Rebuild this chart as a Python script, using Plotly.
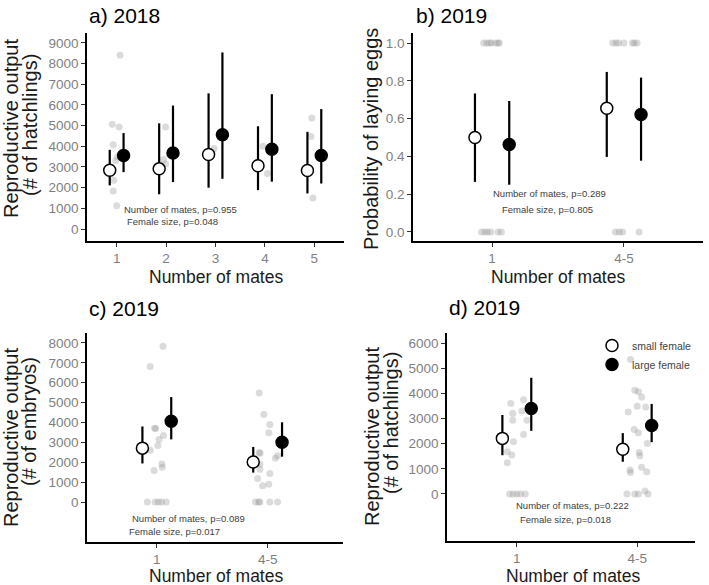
import plotly.graph_objects as go

W, H = 709, 585
FONT = "Liberation Sans, Arial, sans-serif"

# ---------------- data ----------------
# Panel a) 2018 - number of hatchlings
a_cats = ["1", "2", "3", "4", "5"]
a_small_mean = [2840, 2910, 3600, 3060, 2830]
a_small_lo = [2110, 1680, 2000, 1880, 1720]
a_small_hi = [3830, 5110, 6560, 4970, 4700]
a_large_mean = [3560, 3680, 4560, 3860, 3560]
a_large_lo = [2750, 2270, 2430, 2290, 2200]
a_large_hi = [4640, 5970, 8540, 6520, 5800]
a_raw_cat = [1, 1, 1, 1, 1, 1, 1, 1, 1, 2, 2, 2, 3, 3, 4, 4, 5, 5, 5]
a_raw_jit = [0.07, -0.09, 0.05, -0.07, 0.02, -0.02, -0.06, -0.07, 0.0,
             -0.01, -0.05, -0.01, -0.03, -0.07, -0.04, 0.05, -0.05, -0.07, -0.03]
a_raw_val = [8400, 5070, 4930, 4080, 3500, 3300, 2360, 1840, 1130,
             4930, 3360, 3150, 3890, 3680, 4000, 2690, 5370, 4470, 1500]

# Panel b) 2019 - probability of laying eggs
b_cats = ["1", "4-5"]
b_small_mean = [0.500, 0.655]
b_small_lo = [0.265, 0.397]
b_small_hi = [0.733, 0.847]
b_large_mean = [0.463, 0.622]
b_large_lo = [0.250, 0.377]
b_large_hi = [0.693, 0.817]
b_raw_cat = [1] * 13 + [2] * 11
b_raw_jit = [-0.064, -0.04, -0.02, -0.005, 0.026, 0.045, 0.055,
             -0.08, -0.055, -0.035, -0.01, 0.045, 0.07,
             -0.085, -0.06, -0.04, 0.0, 0.064, 0.08, 0.1,
             -0.064, -0.035, -0.01, 0.115]
b_raw_val = [1, 1, 1, 1, 1, 1, 1, 0, 0, 0, 0, 0, 0,
             1, 1, 1, 1, 1, 1, 1, 0, 0, 0, 0]

# Panel c) 2019 - number of embryos
c_cats = ["1", "4-5"]
c_small_mean = [2710, 2010]
c_small_lo = [1940, 1480]
c_small_hi = [3800, 2770]
c_large_mean = [4060, 3010]
c_large_lo = [3150, 2280]
c_large_hi = [5280, 4010]
c_raw_cat = [1] * 16 + [2] * 19
c_raw_jit = [-0.06, 0.056, -0.02, -0.01, 0.06, 0.02, 0.01, -0.06, 0.045, 0.05, -0.025,
             -0.085, -0.015, 0.014, 0.042, 0.085,
             -0.076, -0.034, 0.02, 0.01, -0.076, -0.068, 0.09, 0.07, -0.07, -0.07, 0.02,
             -0.09, 0.01, -0.045,
             -0.11, -0.08, -0.07, 0.02, 0.09]
c_raw_val = [6820, 7830, 3710, 3700, 3340, 3150, 2840, 2600, 1910, 1750, 1580,
             0, 0, 0, 0, 0,
             5480, 4400, 3900, 3480, 2490, 2450, 2330, 2200, 1900, 1650, 1430,
             1180, 890, 820,
             0, 0, 0, 0, 0]

# Panel d) 2019 - number of hatchlings
d_cats = ["1", "4-5"]
d_small_mean = [2210, 1780]
d_small_lo = [1540, 1280]
d_small_hi = [3140, 2420]
d_large_mean = [3400, 2720]
d_large_lo = [2510, 2060]
d_large_hi = [4620, 3580]
d_raw_cat = [1] * 16 + [2] * 21
d_raw_jit = [-0.05, 0.056, -0.034, 0.042, -0.034, 0.084, 0.056, -0.028, -0.079, -0.042, -0.079,
             -0.06, -0.03, 0.0, 0.03, 0.07,
             -0.056, -0.02, 0.01, 0.037, -0.075, 0.0, 0.07, -0.025, 0.01, 0.084, 0.017, 0.022,
             -0.06, -0.056, 0.037, 0.079,
             -0.085, -0.02, 0.01, 0.065, 0.09]
d_raw_val = [3600, 3750, 3200, 3300, 2930, 2930, 2360, 2080, 1680, 1550, 1240,
             0, 0, 0, 0, 0,
             5350, 4120, 4060, 3860, 3260, 3490, 3460, 2560, 2430, 2010, 1650, 1520,
             950, 850, 1060, 880,
             0, 0, 0, 120, 0]

group_names = ["small female", "large female"]

# ---------------- layout helpers ----------------
def fx(p):
    return p / W

def fy(p):
    return 1 - p / H

DODGE = 0.13
RAW_COLOR = "rgba(150,150,150,0.34)"

panels = [
    dict(ax="", cats=a_cats, raw=(a_raw_cat, a_raw_jit, a_raw_val),
         small=(a_small_mean, a_small_lo, a_small_hi), large=(a_large_mean, a_large_lo, a_large_hi),
         dodge=0.14),
    dict(ax="2", cats=b_cats, raw=(b_raw_cat, b_raw_jit, b_raw_val),
         small=(b_small_mean, b_small_lo, b_small_hi), large=(b_large_mean, b_large_lo, b_large_hi),
         dodge=DODGE),
    dict(ax="3", cats=c_cats, raw=(c_raw_cat, c_raw_jit, c_raw_val),
         small=(c_small_mean, c_small_lo, c_small_hi), large=(c_large_mean, c_large_lo, c_large_hi),
         dodge=DODGE),
    dict(ax="4", cats=d_cats, raw=(d_raw_cat, d_raw_jit, d_raw_val),
         small=(d_small_mean, d_small_lo, d_small_hi), large=(d_large_mean, d_large_lo, d_large_hi),
         dodge=0.12),
]

fig = go.Figure()

for i, p in enumerate(panels):
    xa, ya = "x" + p["ax"], "y" + p["ax"]
    rc, rj, rv = p["raw"]
    fig.add_trace(go.Scatter(
        x=[c + j for c, j in zip(rc, rj)], y=rv, mode="markers",
        marker=dict(size=7, color=RAW_COLOR, line=dict(width=0)),
        xaxis=xa, yaxis=ya, showlegend=False, hoverinfo="skip"))
    n = len(p["cats"])
    for gi, (key, fill, off) in enumerate([("small", "white", -p["dodge"]), ("large", "black", p["dodge"])]):
        mean, lo, hi = p[key]
        fig.add_trace(go.Scatter(
            x=[k + 1 + off for k in range(n)], y=mean, mode="markers",
            marker=dict(size=12, color=fill, line=dict(color="black", width=1.5)),
            error_y=dict(type="data", symmetric=False,
                         array=[h - m for h, m in zip(hi, mean)],
                         arrayminus=[m - l for m, l in zip(mean, lo)],
                         color="black", thickness=2.2, width=0),
            xaxis=xa, yaxis=ya, name=group_names[gi],
            showlegend=(i == 3), hoverinfo="skip"))

# axis domains (pixel measurements)
dom = {
    "": dict(x=(87, 344), y=(33, 241), xr=[0.4, 5.6], yr=[-580, 9480],
             yt=list(range(0, 9001, 1000)), ytt=None),
    "2": dict(x=(413, 703), y=(33, 241), xr=[0.4, 2.6], yr=[-0.048, 1.053],
              yt=[0, 0.2, 0.4, 0.6, 0.8, 1.0], ytt=["0.0", "0.2", "0.4", "0.6", "0.8", "1.0"]),
    "3": dict(x=(87, 343), y=(333, 542), xr=[0.37, 2.68], yr=[-2010, 8500],
              yt=list(range(0, 8001, 1000)), ytt=None),
    "4": dict(x=(447, 695), y=(333, 541), xr=[0.42, 2.48], yr=[-1870, 6400],
              yt=list(range(0, 6001, 1000)), ytt=None),
}

axis_common = dict(showline=True, linecolor="black", linewidth=1.6, showgrid=False,
                   zeroline=False, ticks="outside", ticklen=4, tickwidth=1.4,
                   tickcolor="#333333", tickfont=dict(family=FONT, size=13.5, color="#7f7f7f"))

layout_axes = {}
for i, p in enumerate(panels):
    k = p["ax"]
    d = dom[k]
    xname = "xaxis" + k
    yname = "yaxis" + k
    layout_axes[xname] = dict(axis_common, domain=[fx(d["x"][0]), fx(d["x"][1])],
                              range=d["xr"], tickvals=list(range(1, len(p["cats"]) + 1)),
                              ticktext=p["cats"], anchor="y" + k)
    ydict = dict(axis_common, domain=[fy(d["y"][1]), fy(d["y"][0])],
                 range=d["yr"], tickvals=d["yt"], anchor="x" + k)
    if d["ytt"] is not None:
        ydict["ticktext"] = d["ytt"]
    layout_axes[yname] = ydict

fig.update_layout(**layout_axes)

annotations = []

def ann(text, x, y, size, color="black", angle=0, xanchor="center"):
    annotations.append(dict(text=text, x=fx(x), y=fy(y), xref="paper", yref="paper",
                            showarrow=False, textangle=angle, xanchor=xanchor, yanchor="middle",
                            font=dict(family=FONT, size=size, color=color)))

# panel titles
ann("a) 2018", 87, 15, 21, xanchor="left")
ann("b) 2019", 414, 15, 21, xanchor="left")
ann("c) 2019", 87, 308, 21, xanchor="left")
ann("d) 2019", 447, 307, 21, xanchor="left")

# x axis titles
for cx, cy in [(216, 277), (558, 277), (216, 576), (573, 576)]:
    ann("Number of mates", cx, cy, 17.5, color="#1a1a1a")

# y axis titles
ann("Reproductive output", 11, 129, 20, color="#1a1a1a", angle=-90)
ann("(# of hatchlings)", 30, 125, 20, color="#1a1a1a", angle=-90)
ann("Probability of laying eggs", 371, 139, 20, color="#1a1a1a", angle=-90)
ann("Reproductive output", 11, 438, 20, color="#1a1a1a", angle=-90)
ann("(# of embryos)", 29, 422, 20, color="#1a1a1a", angle=-90)
ann("Reproductive output", 372, 437, 20, color="#1a1a1a", angle=-90)
ann("(# of hatchlings)", 391, 423, 20, color="#1a1a1a", angle=-90)

# statistics text
ST = "#404040"
ann("Number of mates, p=0.955", 180, 209, 9.5, ST)
ann("Female size, p=0.048", 172, 221, 9.5, ST)
ann("Number of mates, p=0.289", 549, 194, 9.5, ST)
ann("Female size, p=0.805", 547, 209, 9.5, ST)
ann("Number of mates, p=0.089", 189, 518, 9.5, ST)
ann("Female size, p=0.017", 174, 531, 9.5, ST)
ann("Number of mates, p=0.222", 572, 505, 9.5, ST)
ann("Female size, p=0.018", 565, 519, 9.5, ST)

fig.update_layout(
    width=W, height=H, margin=dict(l=0, r=0, t=0, b=0),
    paper_bgcolor="white", plot_bgcolor="white",
    annotations=annotations,
    showlegend=True,
    legend=dict(x=fx(592), y=fy(331), xanchor="left", yanchor="top",
                bgcolor="rgba(0,0,0,0)", font=dict(family=FONT, size=10.5, color="#444444"),
                itemwidth=30, tracegroupgap=0),
)

fig.write_html("out.html")
